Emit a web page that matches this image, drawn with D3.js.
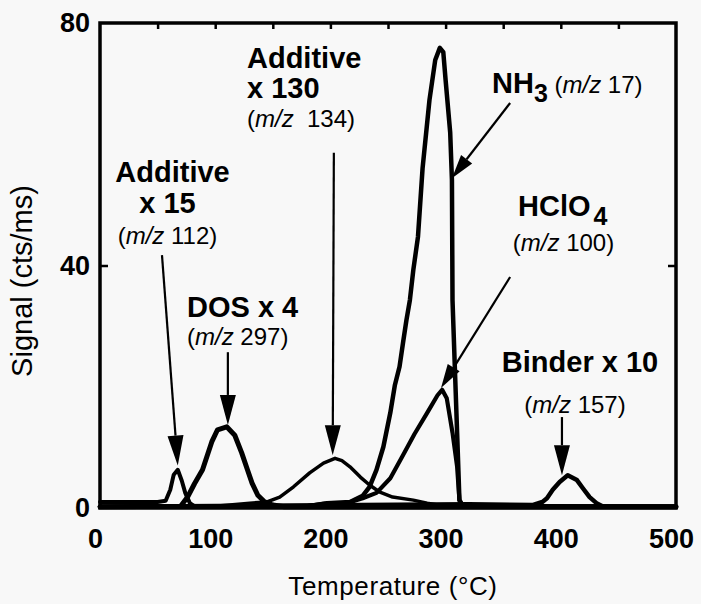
<!DOCTYPE html>
<html>
<head>
<meta charset="utf-8">
<script src="https://cdn.jsdelivr.net/npm/d3@7"></script>
<style>
  html, body { margin: 0; padding: 0; background: #f8f8f8; }
  svg { display: block; }
  text { font-family: "Liberation Sans", Arial, Helvetica, sans-serif; fill: #000; }
</style>
</head>
<body>
<svg id="chart" width="701" height="604"></svg>
<script>
// ---------- data (temperature °C, signal cts/ms) ----------
const add15T  = [0, 50, 57, 61, 64, 67.5, 71, 74, 78, 82, 90, 120, 500];
const add15S  = [1.0, 1.0, 1.2, 3.0, 5.5, 6.3, 4.5, 2.5, 0.8, 0.3, 0.2, 0.2, 0.2];

const dosT = [0, 70, 76, 82, 89, 97, 102, 110, 117, 123, 128, 132, 137, 143, 150, 160, 500];
const dosS = [0.2, 0.3, 1.8, 4.0, 6.3, 10.9, 12.9, 13.4, 12.0, 9.1, 6.3, 4.1, 2.1, 1.0, 0.5, 0.2, 0.2];

const add130T = [0, 100, 130, 145, 156, 168, 182, 194, 204, 210, 217, 226, 234, 243, 254, 272, 284, 300, 500];
const add130S = [0.2, 0.3, 0.8, 1.0, 1.8, 3.5, 5.8, 7.4, 8.2, 7.8, 6.8, 5.1, 3.8, 2.6, 1.8, 1.3, 0.8, 0.3, 0.2];

const nh3T = [0, 180, 197, 217, 228, 234, 240, 246, 252, 256, 260, 263, 266, 269, 272, 276, 280, 286, 291, 295, 298, 300, 304, 305.5, 306, 308, 310, 312, 315, 500];
const nh3S = [0.2, 0.3, 0.8, 1.0, 2.0, 3.5, 6.3, 10.1, 15.7, 20.3, 23.3, 27.2, 31.0, 34.3, 39.3, 44.7, 56.0, 67.3, 73.9, 75.9, 75.2, 70.6, 61.9, 54.1, 34.3, 23.3, 12.4, 1.3, 0.3, 0.2];

const hclo4T = [0, 180, 194, 214, 228, 240, 252, 263, 273, 284, 293, 297, 301, 306, 310, 312, 315, 500];
const hclo4S = [0.2, 0.3, 0.7, 0.8, 1.6, 2.5, 4.9, 8.7, 12.2, 15.7, 18.6, 19.5, 18.1, 12.4, 6.8, 1.3, 0.3, 0.2];

const binderT = [0, 320, 376, 384, 388, 393, 399, 406, 414, 419, 425, 431, 437, 450, 500];
const binderS = [0.2, 0.6, 0.5, 1.0, 1.6, 3.0, 4.3, 5.4, 4.6, 3.3, 1.8, 0.8, 0.2, 0.2, 0.2];

const xTicks = [0, 100, 200, 300, 400, 500];
const yTicks = [0, 40, 80];
const xMinorTicks = [50, 100, 150, 200, 250, 300, 350, 400, 450];

// arrows: [start T, start S] -> [tip T, tip S]
const arrowStartT = [53.8, 111, 203, 356, 356, 401];
const arrowStartS = [41.7, 25.7, 58.6, 66.8, 38.1, 15.0];
const arrowTipT   = [67.5, 111, 202, 305.5, 296, 401];
const arrowTipS   = [7.0, 13.7, 8.7, 54.4, 19.8, 5.4];

// ---------- layout ----------
const svg = d3.select("#chart");
const W = 701, H = 604;
svg.append("rect").attr("width", W).attr("height", H).attr("fill", "#f8f8f8");

const pL = 100, pR = 676, pT = 23, pB = 508;
const x = d3.scaleLinear().domain([0, 500]).range([pL, pR]);
const y = d3.scaleLinear().domain([0, 80]).range([pB, pT]);

// data lines
const line = d3.line().x(d => x(d[0])).y(d => y(d[1]));
const series = [
  { T: add130T, S: add130S, w: 3.5 },
  { T: hclo4T,  S: hclo4S,  w: 4.2 },
  { T: nh3T,    S: nh3S,    w: 4.5 },
  { T: add15T,  S: add15S,  w: 4 },
  { T: dosT,    S: dosS,    w: 5 },
  { T: binderT, S: binderS, w: 4.5 }
];
series.forEach(s => {
  svg.append("path")
    .datum(s.T.map((t, i) => [t, s.S[i]]))
    .attr("d", line)
    .attr("fill", "none")
    .attr("stroke", "#000")
    .attr("stroke-width", s.w)
    .attr("stroke-linejoin", "round")
    .attr("stroke-linecap", "round");
});

// frame
svg.append("rect")
  .attr("x", pL).attr("y", pT)
  .attr("width", pR - pL).attr("height", pB - pT)
  .attr("fill", "none").attr("stroke", "#000").attr("stroke-width", 3.5);

// inward ticks
const tickStyle = g => { g.select(".domain").remove(); g.selectAll("line").attr("stroke", "#000").attr("stroke-width", 2.5); };
svg.append("g").attr("transform", `translate(0,${pT})`)
  .call(d3.axisTop(x).tickValues(xMinorTicks).tickSize(-6).tickFormat(""))
  .call(tickStyle);
svg.append("g").attr("transform", `translate(${pL},0)`)
  .call(d3.axisLeft(y).tickValues([40]).tickSize(-8).tickFormat(""))
  .call(tickStyle);
svg.append("g").attr("transform", `translate(${pR},0)`)
  .call(d3.axisRight(y).tickValues([40]).tickSize(-8).tickFormat(""))
  .call(tickStyle);

// tick labels
const xAxis = svg.append("g").attr("transform", `translate(-5,${pB})`)
  .call(d3.axisBottom(x).tickValues(xTicks).tickSize(0).tickPadding(21).tickFormat(d3.format("d")));
xAxis.select(".domain").remove();
xAxis.selectAll("text").attr("font-size", 27).attr("font-weight", "bold")
  .attr("font-family", "Liberation Sans, Arial, sans-serif").attr("fill", "#000");

const yAxis = svg.append("g").attr("transform", `translate(${pL},0)`)
  .call(d3.axisLeft(y).tickValues(yTicks).tickSize(0).tickPadding(10).tickFormat(d3.format("d")));
yAxis.select(".domain").remove();
yAxis.selectAll("text").attr("font-size", 27).attr("font-weight", "bold")
  .attr("font-family", "Liberation Sans, Arial, sans-serif").attr("fill", "#000");

// axis titles
svg.append("text")
  .attr("x", 393).attr("y", 595)
  .attr("text-anchor", "middle")
  .attr("font-size", 26).attr("letter-spacing", 0.6)
  .text("Temperature (°C)");
svg.append("text")
  .attr("transform", "translate(32,281) rotate(-90)")
  .attr("text-anchor", "middle")
  .attr("font-size", 29)
  .text("Signal (cts/ms)");

// arrows
arrowStartT.forEach((t, i) => {
  const x1 = x(t), y1 = y(arrowStartS[i]);
  const x2 = x(arrowTipT[i]), y2 = y(arrowTipS[i]);
  const dx = x2 - x1, dy = y2 - y1, len = Math.hypot(dx, dy);
  const ux = dx / len, uy = dy / len;
  const hl = (i === 3 || i === 4) ? 24 : 30, hw = (i === 3 || i === 4) ? 7 : 8;
  const bx = x2 - ux * hl, by = y2 - uy * hl;
  svg.append("line")
    .attr("x1", x1).attr("y1", y1).attr("x2", bx).attr("y2", by)
    .attr("stroke", "#000").attr("stroke-width", 2.2);
  svg.append("path")
    .attr("d", `M${x2},${y2}L${bx - uy * hw},${by + ux * hw}L${bx + uy * hw},${by - ux * hw}Z`)
    .attr("fill", "#000");
});

// annotation labels
function label(xp, yp, anchor, parts) {
  const t = svg.append("text").attr("x", xp).attr("y", yp).attr("text-anchor", anchor);
  parts.forEach(p => {
    const s = t.append("tspan").text(p.t)
      .attr("font-size", p.size || 29)
      .attr("font-weight", p.bold === false ? "normal" : "bold");
    if (p.italic) s.attr("font-style", "italic");
    if (p.dy) s.attr("dy", p.dy);
    if (p.dx) s.attr("dx", p.dx);
  });
}
const mz = (num, extra) => [
  { t: "(", size: 24, bold: false },
  { t: "m/z", size: 24, bold: false, italic: true },
  { t: (extra || " ") + num + ")", size: 24, bold: false }
];

label(172.5, 182, "middle", [{ t: "Additive" }]);
label(167.5, 213, "middle", [{ t: "x 15" }]);
label(167.5, 244, "middle", mz("112"));

label(247, 68, "start", [{ t: "Additive" }]);
label(247, 98, "start", [{ t: "x 130" }]);
label(247, 127, "start", mz("134", "\u00a0 "));

label(187, 317, "start", [{ t: "DOS x 4" }]);
label(187, 345, "start", mz("297"));

label(492, 93, "start", [
  { t: "NH" },
  { t: "3", size: 25, dy: 9 },
  { t: " (", size: 24, bold: false, dy: -9 },
  { t: "m/z", size: 24, bold: false, italic: true },
  { t: " 17)", size: 24, bold: false }
]);

label(518, 216, "start", [
  { t: "HClO" },
  { t: "4", size: 25, dy: 9, dx: 3 }
]);
label(563.5, 251, "middle", mz("100"));

label(580, 372, "middle", [{ t: "Binder x 10" }]);
label(575, 413, "middle", mz("157"));
</script>
</body>
</html>
